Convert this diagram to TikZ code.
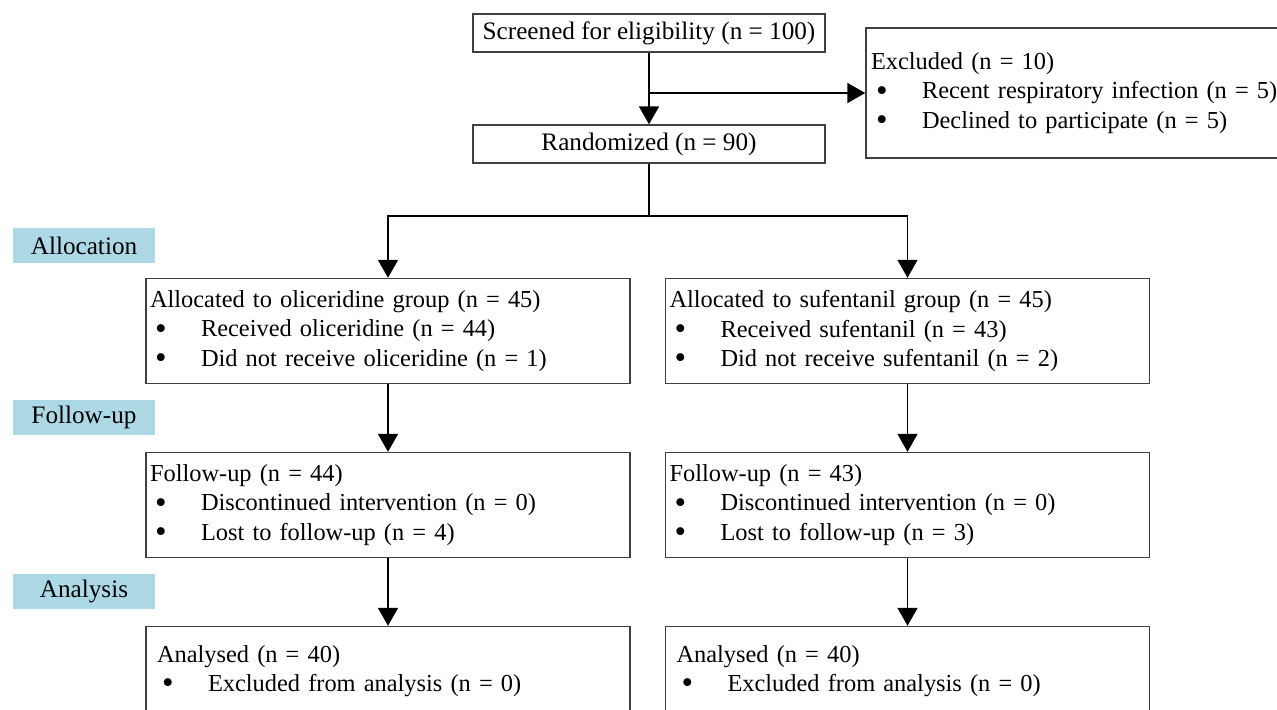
\documentclass[tikz,border=0pt]{standalone}
\usepackage{fontspec}
\usepackage{graphicx}
\setmainfont{Liberation Serif}
\usetikzlibrary{arrows.meta,positioning}
\definecolor{stagebg}{RGB}{173,216,230}
\newcommand{\bul}[1]{\\\makebox[25.5pt][l]{\hspace{2.5pt}\smash{\raisebox{-0.2ex}{\scalebox{1.35}{\textbullet}}}}#1}

\begin{document}
\begin{tikzpicture}[
      x=0.5pt, y=-0.5pt,
      font=\fontsize{12.6}{14.75}\selectfont,
      single/.style={draw=black!75, line width=0.7pt, align=center,
        minimum width=176pt, minimum height=19pt, inner sep=0pt},
      grp/.style={draw=black!75, line width=0.7pt, align=left,
        font=\fontsize{12.2}{14.75}\selectfont,
        text width=238pt, inner xsep=2pt, inner ysep=0pt, minimum height=52.5pt},
      anl/.style={grp, text width=231pt, inner xsep=5.5pt, minimum height=44.5pt},
      stage/.style={fill=stagebg, minimum width=71pt, minimum height=17.5pt, inner sep=0pt},
      arr/.style={-{Triangle[length=9pt,width=10pt]}, line width=0.8pt},
      line/.style={line width=0.8pt},
    ]
    \useasboundingbox (0,0) rectangle (1277,709);
    \clip (0,0) rectangle (1277,709);

    % enrolment
    \node[single] (screen) at (649,33) {Screened for eligibility (n = 100)};
    \node[single] (rand) at (649,144) {Randomized (n = 90)};
    \node[grp, text width=222pt, inner xsep=2.5pt, minimum height=65pt] (excl) at (1093,93)
      {Excluded (n = 10)\bul{Recent respiratory infection (n = 5)}\bul{Declined to participate (n = 5)}};
    \coordinate (split) at (screen.south |- excl.west);
    \draw[arr] (screen) -- (rand);
    \draw[arr] (split) -- (excl.west);

    % stage labels
    \node[stage] (sAlloc) at (84,245.5) {Allocation};
    \node[stage] (sFollow) at (84,417.5) {Follow-up};
    \node[stage] (sAnal) at (84,591.5) {Analysis};

    % allocation
    \node[grp] (allocL) at (388,331)
      {Allocated to oliceridine group (n = 45)\bul{Received oliceridine (n = 44)}\bul{Did not receive oliceridine (n = 1)}};
    \node[grp] (allocR) at (907.5,331)
      {Allocated to sufentanil group (n = 45)\bul{Received sufentanil (n = 43)}\bul{Did not receive sufentanil (n = 2)}};
    \coordinate (fork) at (649,216);
    \draw[line] (rand) -- (fork);
    \draw[arr] (fork) -| (allocL);
    \draw[arr] (fork) -| (allocR);

    % follow-up
    \node[grp] (followL) at (388,505)
      {Follow-up (n = 44)\bul{Discontinued intervention (n = 0)}\bul{Lost to follow-up (n = 4)}};
    \node[grp] (followR) at (907.5,505)
      {Follow-up (n = 43)\bul{Discontinued intervention (n = 0)}\bul{Lost to follow-up (n = 3)}};
    \draw[arr] (allocL) -- (followL);
    \draw[arr] (allocR) -- (followR);

    % analysis
    \node[anl] (analL) at (388,671)
      {Analysed (n = 40)\bul{Excluded from analysis (n = 0)}};
    \node[anl] (analR) at (907.5,671)
      {Analysed (n = 40)\bul{Excluded from analysis (n = 0)}};
    \draw[arr] (followL) -- (analL);
    \draw[arr] (followR) -- (analR);
  \end{tikzpicture}
\end{document}
